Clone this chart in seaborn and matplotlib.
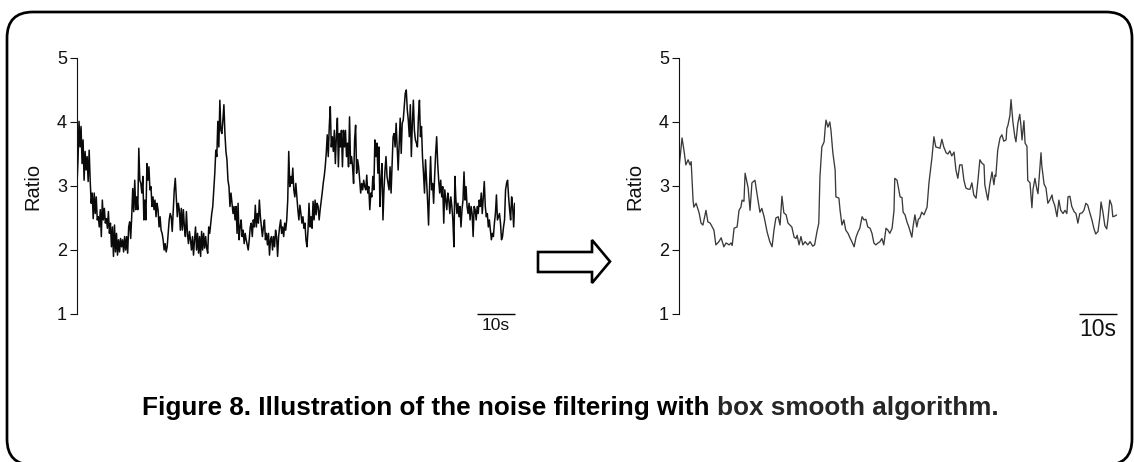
import matplotlib
matplotlib.use("Agg")
import matplotlib.pyplot as plt
from matplotlib import font_manager
from matplotlib.patches import Polygon, FancyBboxPatch
from matplotlib.transforms import IdentityTransform
import numpy as np
import pandas as pd
import seaborn as sns

# ---------------------------------------------------------------- data
# raw ratio trace, fixed sampling interval (s)
raw_dt = 0.2667
raw_ratio = [
    3.02, 3.41, 4.01, 3.61, 3.93, 3.35, 3.72, 3.09, 3.54, 3.25,
    3.46, 3.07, 3.56, 3.09, 2.73, 2.89, 2.49, 2.89, 2.57, 2.83,
    2.47, 2.52, 2.36, 2.63, 2.21, 2.78, 2.47, 2.65, 2.42, 2.49,
    2.34, 2.60, 2.26, 2.42, 2.05, 2.36, 1.90, 2.39, 1.97, 2.26,
    1.92, 2.16, 1.97, 2.18, 2.05, 2.16, 1.97, 2.21, 2.00, 2.21,
    1.95, 2.36, 2.44, 2.18, 2.52, 2.96, 2.60, 3.09, 2.63, 2.83,
    2.63, 3.59, 3.09, 3.04, 2.89, 3.15, 2.47, 2.78, 2.47, 3.35,
    3.09, 3.30, 2.94, 2.99, 2.68, 2.83, 2.63, 2.78, 2.52, 2.73,
    2.63, 2.36, 2.52, 2.31, 2.26, 2.16, 2.00, 2.10, 1.97, 2.05,
    2.26, 2.47, 2.57, 2.52, 2.29, 2.63, 2.94, 3.12, 2.83, 2.52,
    2.73, 2.63, 2.31, 2.65, 2.31, 2.63, 2.36, 2.21, 2.60, 2.26,
    2.10, 2.29, 2.16, 2.00, 2.21, 1.92, 2.16, 2.36, 2.00, 2.26,
    1.95, 2.21, 1.90, 2.29, 2.00, 2.26, 2.03, 2.21, 2.03, 1.95,
    2.36, 2.26, 2.42, 2.57, 2.68, 2.94, 3.20, 3.56, 3.46, 4.01,
    3.61, 4.34, 3.87,
    3.82, 4.03, 4.27, 3.82, 3.54, 3.41, 3.09, 2.99, 2.68, 2.89,
    2.73, 2.57, 2.68, 2.47, 2.68, 2.26, 2.73, 2.16, 2.36, 2.47,
    2.21, 2.31, 2.10, 2.26, 2.16, 2.08, 2.00, 2.16, 2.36, 2.42,
    2.21, 2.47, 2.36, 2.70, 2.36, 2.57, 2.42, 2.78, 2.52, 2.36,
    2.21, 2.36, 2.47, 2.16, 2.26, 2.08, 2.26, 1.92, 2.16, 2.21,
    2.00, 2.21, 2.05, 2.31, 2.21, 1.90, 2.21, 2.36, 2.47, 2.26,
    2.36, 2.21, 2.42, 2.31, 2.47, 2.78, 3.54, 2.99, 3.15, 3.04,
    3.28, 2.94, 2.83, 3.04, 2.83, 2.63, 2.47, 2.70, 2.57, 2.42,
    2.52, 2.34, 2.42, 2.16, 2.05, 2.31, 2.73, 2.36, 2.52, 2.34,
    2.76, 2.47, 2.78, 2.55, 2.73, 2.68, 2.47, 2.63, 2.76, 2.89,
    3.04, 3.15, 3.30, 3.51, 3.80, 3.46, 3.93, 4.24, 3.61, 3.77,
    3.54, 3.87, 3.35, 3.77, 4.06, 3.30, 3.82, 3.61, 3.87, 3.30,
    3.87, 3.61, 3.87, 3.46, 3.67, 3.30, 4.08, 3.35, 3.46, 3.30,
    3.04, 3.72, 3.95, 3.20, 3.41, 3.30, 3.09, 2.89, 3.04, 2.94,
    3.09, 2.99, 2.94, 3.17, 2.89, 2.99, 2.63,
    2.89, 2.83, 3.15, 2.94, 3.72, 3.46, 3.67, 3.20, 3.61, 2.68,
    3.09, 3.35, 2.47, 2.94, 3.25, 3.46, 3.15, 3.04, 2.94, 3.30,
    2.89, 3.35, 3.77, 3.82, 3.61, 3.98, 3.61, 3.25, 3.67, 4.06,
    3.51, 3.98, 4.03, 4.24, 4.45, 4.50, 4.19, 4.03, 3.77, 4.27,
    3.46, 3.98, 4.34, 3.87, 3.72, 3.67, 3.61, 4.08, 4.34, 3.77,
    3.93, 3.46, 3.20, 2.89, 3.41, 3.09, 2.78, 2.39, 2.99, 3.46,
    2.94, 3.04, 2.73, 3.15, 3.51, 3.77, 3.35, 3.09, 2.89, 3.09,
    2.83, 2.99, 2.42, 2.94, 2.78, 2.63, 2.89, 2.78, 2.57, 2.83,
    2.68, 2.47, 2.05, 3.15, 2.78, 2.57, 2.73, 2.52, 2.68, 2.36,
    2.63, 2.78, 3.22, 2.78, 2.99, 2.68, 2.57, 2.73, 2.47, 2.68,
    2.57, 2.21, 2.68, 2.63, 2.47, 2.68, 2.57, 2.78, 2.68, 2.89,
    2.57, 2.83, 3.07, 2.68, 2.52, 2.57, 2.36, 2.47, 2.31, 2.16,
    2.26, 2.21, 2.42, 2.57, 2.86, 2.47, 2.52, 2.57, 2.42, 2.16,
    2.21, 2.36, 2.47, 2.94, 3.04, 3.09, 2.83, 2.63, 2.47, 2.83,
    2.68, 2.36, 2.73,
]

# box-smoothed trace
smooth_time = [
    0.0, 0.8, 1.3, 1.8, 2.4, 2.9, 3.2, 3.7, 3.9, 4.5,
    5.3, 5.8, 6.3, 7.1, 7.6, 8.2, 9.2, 9.7, 10.5, 11.1,
    11.8, 12.4, 13.2, 13.7, 14.0, 14.5, 15.3, 15.8, 16.3, 16.6,
    17.1, 17.4, 18.2, 18.7, 19.2, 20.0, 20.5, 21.3, 21.8, 22.4,
    23.2, 23.9, 24.5, 25.0, 25.5, 26.1, 26.6, 27.1, 27.6, 28.2,
    28.7, 29.2, 29.7, 30.3, 30.8, 31.1, 31.6, 32.1, 32.6, 33.2,
    33.9, 34.5, 35.2, 35.7, 36.3, 36.8, 37.1, 37.6, 38.2, 38.5,
    38.7, 39.2, 39.7, 40.0, 40.5, 41.1, 41.3, 42.1, 42.4, 42.9,
    43.4, 43.9, 44.5, 45.0, 45.5, 46.1, 46.6, 47.1, 47.6, 48.2,
    48.7, 49.2, 49.7, 50.3, 50.8, 51.3, 51.8, 52.4, 52.9, 53.4,
    53.9, 54.5, 55.0, 55.5, 56.1, 56.6, 56.8, 57.4, 58.2, 58.7,
    59.0, 59.5, 60.0, 60.5, 61.3, 61.6, 62.1, 62.6, 63.0, 63.4,
    63.9, 64.5, 65.3, 65.8, 66.6, 67.1, 67.6, 68.2, 68.7, 69.2,
    69.7, 70.3, 70.8, 71.3, 71.8, 72.4, 72.9, 73.4, 73.9, 74.5,
    75.0, 75.5, 76.1, 76.6, 77.1, 77.6, 78.2, 78.7, 79.2, 79.7,
    80.3, 80.5, 81.3, 81.8, 82.4, 82.9, 83.2, 83.4, 83.9, 84.5,
    85.0, 85.5, 86.1, 86.3, 86.6, 87.1, 87.4, 87.9, 88.4, 88.7,
    89.2, 89.7, 90.0, 90.3, 90.8, 91.1, 91.6, 91.8, 92.4, 92.9,
    93.2, 93.7, 94.2, 94.5, 94.9, 95.3, 95.5, 96.1, 96.6, 97.1,
    97.6, 98.2, 98.4, 98.9, 99.5, 100.0, 100.5, 101.1, 101.6, 102.1,
    102.4, 102.9, 103.4, 104.0, 104.5, 105.0, 105.5, 106.1, 106.6, 107.1,
    107.6, 108.2, 108.7, 109.2, 109.7, 110.3, 110.8, 111.1, 111.6, 112.1,
    112.6, 112.9, 113.4, 113.9, 114.2, 114.7, 115.3,
]
smooth_ratio = [
    3.28, 3.75, 3.56, 3.33, 3.41, 3.33, 3.38, 2.78, 2.67, 2.73,
    2.58, 2.42, 2.39, 2.62, 2.44, 2.42, 2.31, 2.08, 2.13, 2.19,
    2.05, 2.11, 2.08, 2.11, 2.07, 2.34, 2.36, 2.62, 2.67, 2.78,
    2.76, 3.20, 2.97, 2.62, 3.05, 3.09, 2.89, 2.59, 2.65, 2.52,
    2.28, 2.13, 2.05, 2.31, 2.50, 2.52, 2.39, 2.84, 2.58, 2.55,
    2.42, 2.39, 2.36, 2.20, 2.18, 2.23, 2.08, 2.21, 2.08, 2.13,
    2.08, 2.13, 2.06, 2.08, 2.28, 2.42, 3.14, 3.61, 3.69, 3.92,
    4.03, 3.92, 4.00, 3.87, 3.52, 3.25, 2.83, 2.81, 2.62, 2.39,
    2.47, 2.31, 2.26, 2.19, 2.13, 2.05, 2.20, 2.28, 2.34, 2.52,
    2.47, 2.48, 2.36, 2.34, 2.26, 2.11, 2.08, 2.11, 2.13, 2.18,
    2.08, 2.34, 2.31, 2.26, 2.34, 2.62, 3.12, 3.09, 2.83, 2.82,
    2.59, 2.55, 2.44, 2.36, 2.20, 2.36, 2.55, 2.36, 2.48, 2.50,
    2.59, 2.55, 2.67, 3.05, 3.45, 3.77, 3.61, 3.60, 3.59, 3.73,
    3.61, 3.52, 3.50, 3.55, 3.47, 3.53, 3.25, 3.12, 3.33, 3.33,
    3.09, 2.97, 2.95, 2.95, 3.05, 2.86, 2.81, 3.09, 3.41, 3.36,
    3.33, 3.02, 2.78, 3.02, 3.22, 3.02, 3.17, 3.15, 3.56, 3.75,
    3.80, 3.70, 3.72, 3.90, 3.95, 4.10, 4.35, 4.00, 3.77, 3.69,
    3.98, 4.12, 3.95, 3.72, 4.02, 3.67, 3.62, 3.09, 3.05, 2.66,
    2.95, 3.12, 2.95, 2.88, 3.20, 3.52, 3.32, 3.03, 2.97, 2.73,
    2.78, 2.86, 2.78, 2.70, 2.52, 2.78, 2.62, 2.57, 2.62, 2.57,
    2.83, 2.84, 2.68, 2.60, 2.57, 2.42, 2.57, 2.58, 2.62, 2.73,
    2.70, 2.57, 2.47, 2.34, 2.25, 2.29, 2.52, 2.75, 2.59, 2.38,
    2.33, 2.47, 2.78, 2.70, 2.52, 2.53, 2.55,
]

y_ticks = [1, 2, 3, 4, 5]
y_label = "Ratio"
scale_bar_s = 10
scale_bar_label = "10s"
caption_main = "Figure 8. Illustration of the noise filtering with"
caption_tail = "box smooth algorithm."

# ---------------------------------------------------------------- style
sns.set_style("ticks")
plt.rcParams["font.family"] = ["Liberation Sans", "DejaVu Sans"]

installed = {f.name for f in font_manager.fontManager.ttflist}
narrow = "Liberation Sans Narrow" in installed
cap_family = ["Liberation Sans Narrow"] if narrow else ["Liberation Sans"]
cap_fs = 17.0 if narrow else 18.8

W, H = 1134, 462
fig = plt.figure(figsize=(W / 100, H / 100), dpi=100)


def fx(px):
    return px / W


def fy(py):
    return 1 - py / H


raw_df = pd.DataFrame({"time": np.arange(len(raw_ratio)) * raw_dt,
                       "ratio": raw_ratio})
smooth_df = pd.DataFrame({"time": smooth_time, "ratio": smooth_ratio})

t_end = 115.3
panels = [
    (77, raw_df, "#0a0a0a", 1.1, 12.5),
    (679, smooth_df, "#3a3a3a", 0.95, 16.5),
]
for left_px, df, color, lw, bar_fs in panels:
    ax = fig.add_axes([fx(left_px), fy(314), 438 / W, 256 / H])
    sns.lineplot(data=df, x="time", y="ratio", ax=ax, color=color,
                 linewidth=lw, estimator=None, sort=False)
    ax.set_xlim(0, t_end)
    ax.set_ylim(1, 5)
    ax.set_yticks(y_ticks)
    ax.set_yticklabels([str(v) for v in y_ticks])
    ax.tick_params(axis="y", length=5, width=0.8, pad=2.2,
                   labelsize=13, colors="#111111")
    ax.set_xticks([])
    ax.set_xlabel("")
    ax.set_ylabel(y_label, fontsize=14.5, color="#111111")
    ax.yaxis.set_label_coords(-0.08, 0.5)
    for side in ("top", "right", "bottom"):
        ax.spines[side].set_visible(False)
    ax.spines["left"].set_linewidth(0.8)
    ax.spines["left"].set_color("#111111")
    ax.patch.set_alpha(0)

    # time scale bar
    ax.plot([t_end - scale_bar_s, t_end], [1, 1], color="black",
            linewidth=1.0, clip_on=False, solid_capstyle="butt")
    ax.annotate(scale_bar_label, xy=(t_end - scale_bar_s / 2, 1),
                xytext=(0, -3), textcoords="offset points",
                ha="center", va="top", fontsize=bar_fs, color="#111111",
                annotation_clip=False)

# hollow arrow between the two panels
arrow_px = [(538, 252), (592, 252), (592, 240), (610, 261.5),
            (592, 283), (592, 272), (538, 272)]
fig.patches.append(Polygon([(fx(x), fy(y)) for x, y in arrow_px],
                           closed=True, facecolor="white",
                           edgecolor="black", linewidth=1.9,
                           joinstyle="miter",
                           transform=fig.transFigure, figure=fig))

# rounded frame
frame = FancyBboxPatch((7, H - 465), 1125, 453,
                       boxstyle="round,pad=0,rounding_size=26",
                       facecolor="none", edgecolor="black",
                       linewidth=1.95, transform=IdentityTransform(),
                       figure=fig)
fig.patches.append(frame)

# caption in two colours
t1 = fig.text(0, fy(408), caption_main, fontsize=cap_fs, fontweight="bold",
              family=cap_family, color="black", ha="left", va="center")
t2 = fig.text(0, fy(408), caption_tail, fontsize=cap_fs, fontweight="bold",
              family=cap_family, color="#262626", ha="left", va="center")
fig.canvas.draw()
r = fig.canvas.get_renderer()
w1 = t1.get_window_extent(r).width
w2 = t2.get_window_extent(r).width
gap = 0.278 * cap_fs * 100 / 72
start = 570 - (w1 + gap + w2) / 2
t1.set_x(fx(start))
t2.set_x(fx(start + w1 + gap))

fig.savefig("out.png", dpi=100)
